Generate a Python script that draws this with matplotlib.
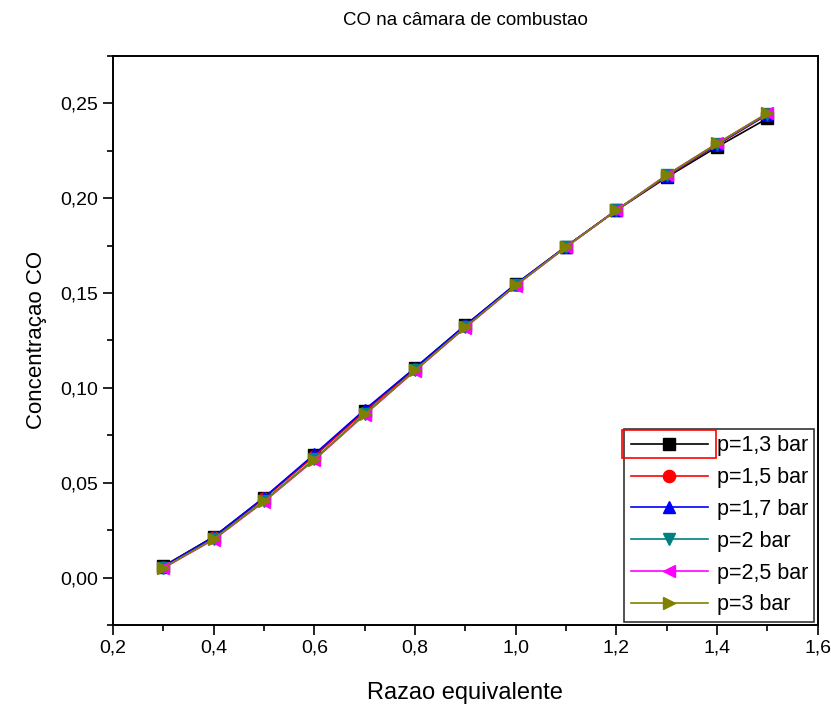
import matplotlib.pyplot as plt
import numpy as np
from matplotlib.ticker import MultipleLocator, FuncFormatter
from matplotlib.patches import Rectangle

plt.rcParams['font.family'] = ['Liberation Sans', 'DejaVu Sans']

phi = [0.3, 0.4, 0.5, 0.6, 0.7, 0.8, 0.9, 1.0, 1.1, 1.2, 1.3, 1.4, 1.5]
co_p13 = [0.0060, 0.0215, 0.0420, 0.0645, 0.0880, 0.1105, 0.1330, 0.1545, 0.1745, 0.1935, 0.2110, 0.2270, 0.2420]
co_p15 = [0.0058, 0.0212, 0.0418, 0.0640, 0.0875, 0.1100, 0.1328, 0.1543, 0.1745, 0.1937, 0.2115, 0.2280, 0.2440]
co_p17 = [0.0058, 0.0214, 0.0422, 0.0650, 0.0885, 0.1105, 0.1330, 0.1548, 0.1745, 0.1937, 0.2118, 0.2283, 0.2442]
co_p2 = [0.0052, 0.0205, 0.0405, 0.0625, 0.0862, 0.1092, 0.1320, 0.1540, 0.1742, 0.1935, 0.2120, 0.2285, 0.2445]
co_p25 = [0.0050, 0.0200, 0.0400, 0.0620, 0.0858, 0.1090, 0.1318, 0.1538, 0.1742, 0.1935, 0.2122, 0.2288, 0.2448]
co_p3 = [0.0052, 0.0202, 0.0402, 0.0622, 0.0860, 0.1092, 0.1320, 0.1540, 0.1743, 0.1936, 0.2122, 0.2288, 0.2447]

series = [
    ('p=1,3 bar', co_p13, 'black', 's'),
    ('p=1,5 bar', co_p15, 'red', 'o'),
    ('p=1,7 bar', co_p17, 'blue', '^'),
    ('p=2 bar', co_p2, '#008080', 'v'),
    ('p=2,5 bar', co_p25, 'magenta', '<'),
    ('p=3 bar', co_p3, '#808000', '>'),
]

fig = plt.figure(figsize=(8.31, 7.07), dpi=100)
ax = fig.add_axes([0.136, 0.116, 0.848, 0.805])

for label, vals, color, marker in series:
    ax.plot(phi, vals, color=color, marker=marker, markersize=8, linewidth=1.2, label=label)

ax.set_xlim(0.2, 1.6)
ax.set_ylim(-0.025, 0.275)
ax.xaxis.set_major_locator(MultipleLocator(0.2))
ax.xaxis.set_minor_locator(MultipleLocator(0.1))
ax.yaxis.set_major_locator(MultipleLocator(0.05))
ax.yaxis.set_minor_locator(MultipleLocator(0.025))
ax.xaxis.set_major_formatter(FuncFormatter(lambda v, p: f'{v:.1f}'.replace('.', ',')))
ax.yaxis.set_major_formatter(FuncFormatter(lambda v, p: f'{v:.2f}'.replace('.', ',')))
ax.tick_params(which='both', direction='out', labelsize=14, width=1.2)
ax.tick_params(which='major', length=7)
ax.tick_params(which='minor', length=4)
for s in ax.spines.values():
    s.set_linewidth(1.4)

ax.set_xlabel('Razao equivalente', fontsize=17, labelpad=18)
ax.set_ylabel('Concentraçao CO', fontsize=16, labelpad=10)
ax.set_title('CO na câmara de combustao', fontsize=13.5, pad=22)

leg = ax.legend(loc='lower right', fontsize=15.5, frameon=True, fancybox=False,
                edgecolor='black', handlelength=3.6, handletextpad=0.4,
                borderaxespad=0.15, labelspacing=0.5, borderpad=0.3, markerscale=1.1)
leg.get_frame().set_linewidth(1.2)

# red selection box around first legend entry
fig.canvas.draw()
bb = leg.legend_handles[0].get_window_extent(fig.canvas.get_renderer())
yc = (bb.y0 + bb.y1) / 2
inv = fig.transFigure.inverted()
(x0, y0), (x1, y1) = inv.transform([[bb.x0 - 2, yc - 14], [bb.x1 + 2, yc + 14]])
fig.patches.append(Rectangle((x0, y0), x1 - x0, y1 - y0, transform=fig.transFigure,
                             fill=False, edgecolor='red', linewidth=1.2, zorder=10))

fig.savefig('out.png', dpi=100)
